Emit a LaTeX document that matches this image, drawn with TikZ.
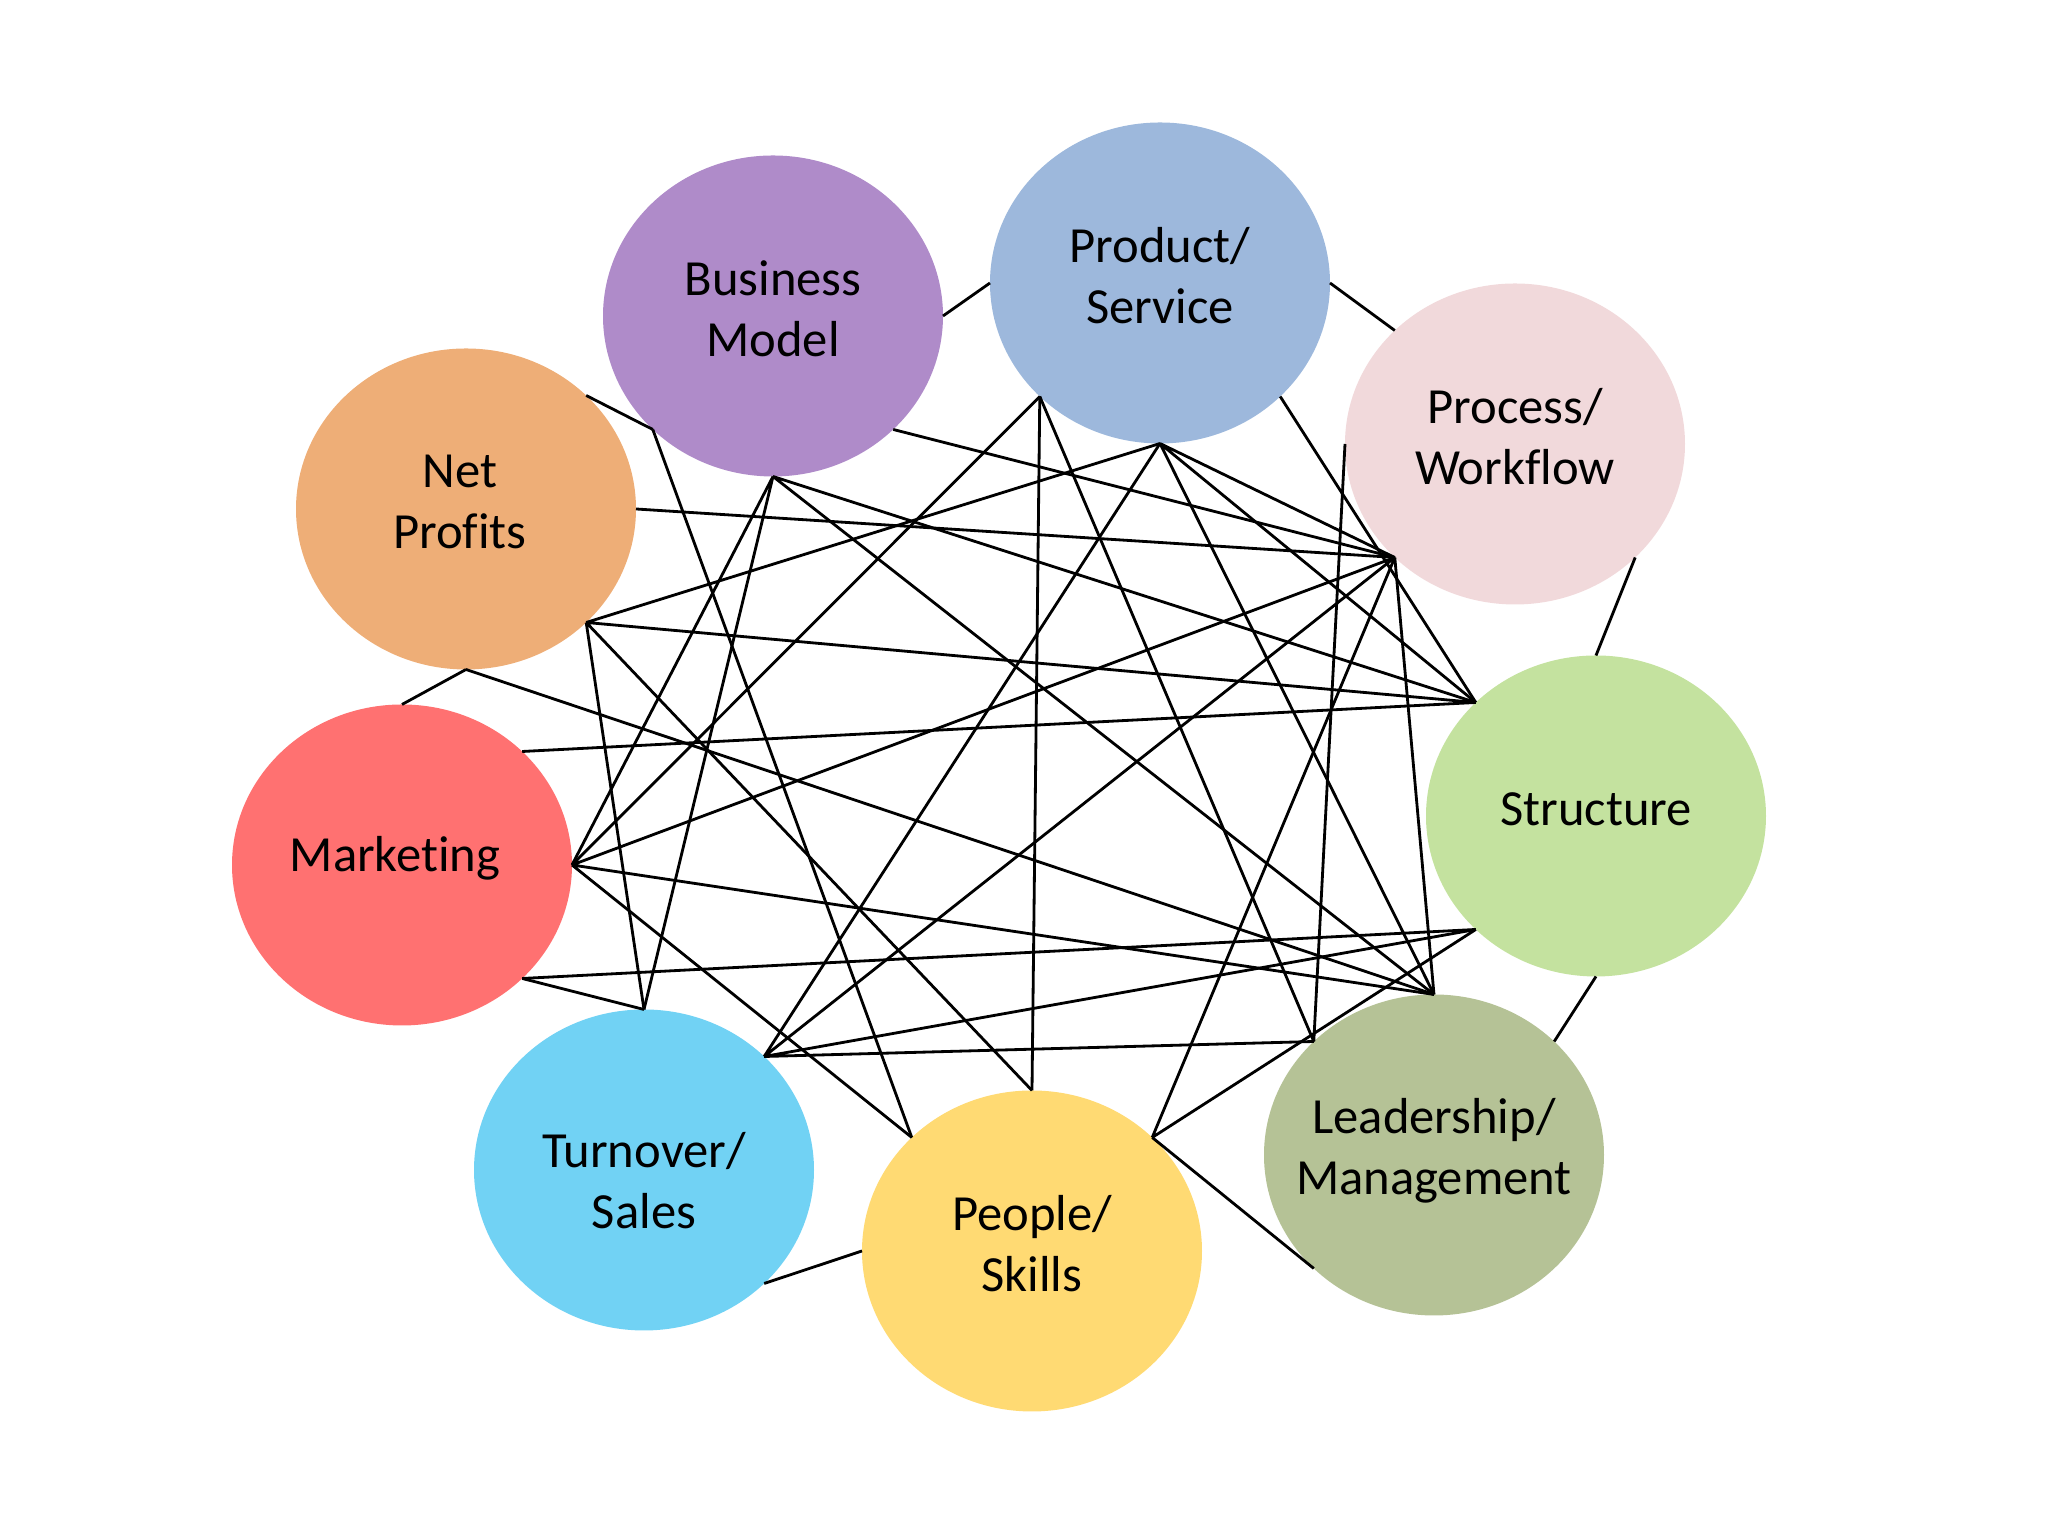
\documentclass[tikz,border=0pt]{standalone}
\usepackage{fontspec}
\setmainfont[Ligatures=NoCommon]{Carlito}
\usetikzlibrary{shapes.geometric}

\definecolor{colBusiness}{HTML}{AF8BC9}
\definecolor{colProduct}{HTML}{9DB8DC}
\definecolor{colProcess}{HTML}{F1D9DB}
\definecolor{colStructure}{HTML}{C4E29F}
\definecolor{colLeader}{HTML}{B5C296}
\definecolor{colPeople}{HTML}{FFDA73}
\definecolor{colSales}{HTML}{71D2F4}
\definecolor{colMarketing}{HTML}{FF7171}
\definecolor{colProfits}{HTML}{EEAE77}

\begin{document}
\begin{tikzpicture}[
  hringur/.style={ellipse, minimum width=3.40cm, minimum height=3.21cm, inner sep=0pt, outer sep=0pt},
  texti/.style={align=center, font=\fontsize{14.4}{17.4}\selectfont, yshift=2pt},
  tengill/.style={thick, black}]
  \useasboundingbox (0,0) rectangle (20.48,15.36);

  % sporbaugar
  \node [hringur, fill=colBusiness] (bm) at (7.73,12.20) {};
  \node [hringur, fill=colProduct] (ps) at (11.60,12.53) {};
  \node [hringur, fill=colProcess] (pw) at (15.15,10.92) {};
  \node [hringur, fill=colStructure] (st) at (15.96,7.20) {};
  \node [hringur, fill=colLeader] (lm) at (14.34,3.81) {};
  \node [hringur, fill=colPeople] (pe) at (10.32,2.85) {};
  \node [hringur, fill=colSales] (ts) at (6.44,3.66) {};
  \node [hringur, fill=colMarketing] (mk) at (4.02,6.71) {};
  \node [hringur, fill=colProfits] (np) at (4.66,10.27) {};

  % textar
  \node [texti] (bmt) at (bm) {Business\\Model};
  \node [texti] (pst) at (ps) {Product/\\Service};
  \node [texti] (pwt) at (pw) {Process/\\Workflow};
  \node [texti] (stt) at (st) {Structure};
  \node [texti] (lmt) at ([yshift=-0.03cm]lm) {Leadership/\\Management};
  \node [texti] (pet) at (pe) {People/\\Skills};
  \node [texti] (tst) at ([yshift=-0.18cm]ts) {Turnover/\\Sales};
  \node [texti] (mkt) at ([xshift=-0.07cm]mk) {Marketing};
  \node [texti] (npt) at ([xshift=-0.06cm]np) {Net\\Profits};

  % hringurinn
  \draw [tengill] (bm.east) -- (ps.west);
  \draw [tengill] (ps.east) -- (pw.north west);
  \draw [tengill] (pw.south east) -- (st.north);
  \draw [tengill] (st.south) -- (lm.north east);
  \draw [tengill] (lm.south west) -- (pe.north east);
  \draw [tengill] (pe.west) -- (ts.south east);
  \draw [tengill] (ts.north) -- (mk.south east);
  \draw [tengill] (mk.north) -- (np.south);
  \draw [tengill] (np.north east) -- (bm.south west);

  % þvert yfir
  \draw [tengill] (bm.south west) -- (pe.north west);
  \draw [tengill] (bm.south) -- (st.north west) (bm.south) -- (lm.north)
                  (bm.south) -- (mk.east) (bm.south) -- (ts.north);
  \draw [tengill] (bm.south east) -- (pw.south west);
  \draw [tengill] (np.east) -- (pw.south west);
  \draw [tengill] (np.south east) -- (ps.south) (np.south east) -- (st.north west)
                  (np.south east) -- (ts.north) (np.south east) -- (pe.north);
  \draw [tengill] (np.south) -- (lm.north);
  \draw [tengill] (mk.north east) -- (st.north west);
  \draw [tengill] (mk.east) -- (ps.south west) (mk.east) -- (pw.south west)
                  (mk.east) -- (lm.north) (mk.east) -- (pe.north west);
  \draw [tengill] (mk.south east) -- (st.south west);
  \draw [tengill] (ts.north east) -- (ps.south) (ts.north east) -- (pw.south west)
                  (ts.north east) -- (st.south west) (ts.north east) -- (lm.north west);
  \draw [tengill] (pe.north) -- (ps.south west);
  \draw [tengill] (pe.north east) -- (pw.south west) (pe.north east) -- (st.south west);
  \draw [tengill] (ps.south) -- (pw.south west) (ps.south) -- (st.north west)
                  (ps.south) -- (lm.north);
  \draw [tengill] (ps.south east) -- (st.north west);
  \draw [tengill] (ps.south west) -- (lm.north west);
  \draw [tengill] (pw.west) -- (lm.north west);
  \draw [tengill] (pw.south west) -- (lm.north);
\end{tikzpicture}
\end{document}
